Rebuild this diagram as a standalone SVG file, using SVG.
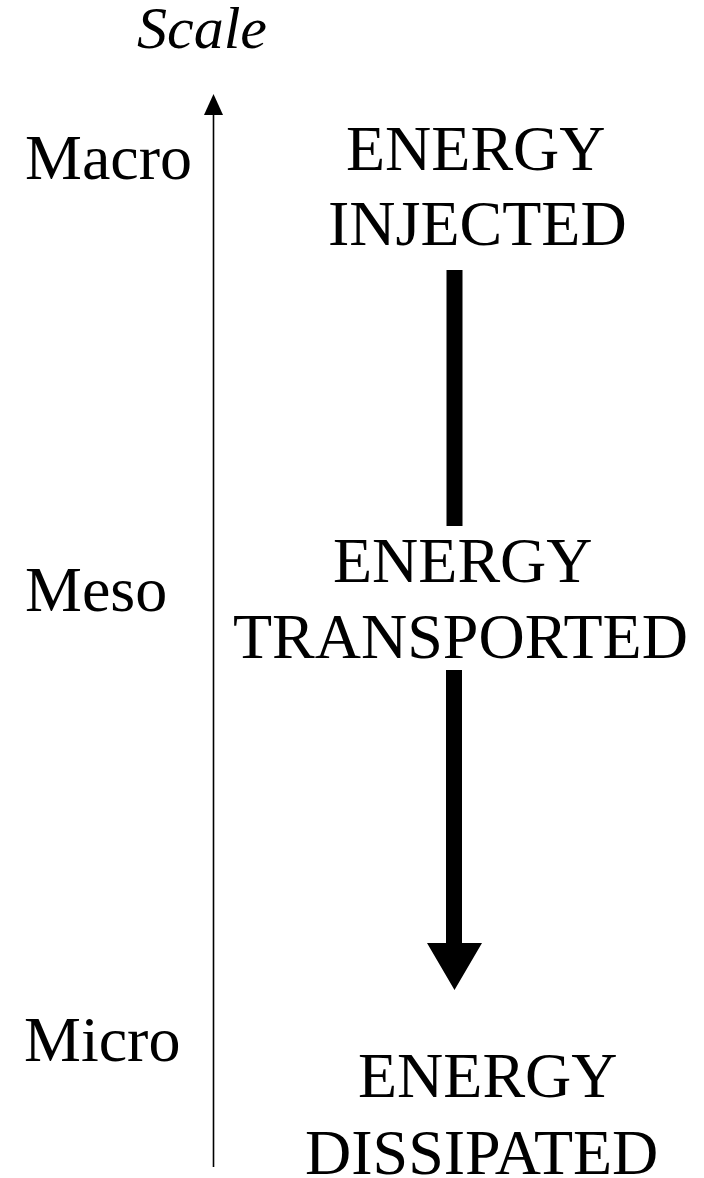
<svg xmlns="http://www.w3.org/2000/svg" width="704" height="1178" viewBox="0 0 704 1178">
  <style>
    text { font-family: "Liberation Serif", "Times New Roman", serif; font-size: 64px; fill: #000; }
    .ital { font-style: italic; font-size: 60px; }
  </style>
  <rect width="704" height="1178" fill="#fff"/>

  <!-- scale axis -->
  <g id="axis">
    <line x1="213.5" y1="1167" x2="213.5" y2="100" stroke="#000" stroke-width="1.6"/>
    <path d="M213.5,94 L204,115 L223,115 Z" fill="#000"/>
    <text x="137" y="48" class="ital">Scale</text>
  </g>

  <g id="label-macro"><text x="25" y="179">Macro</text></g>
  <g id="label-meso"><text x="25" y="611">Meso</text></g>
  <g id="label-micro"><text x="24" y="1061">Micro</text></g>

  <g id="node-injected">
    <text x="346" y="170">ENERGY</text>
    <text x="328" y="245">INJECTED</text>
  </g>
  <g id="node-transported">
    <text x="333" y="582">ENERGY</text>
    <text x="233" y="658">TRANSPORTED</text>
  </g>
  <g id="node-dissipated">
    <text x="358" y="1097">ENERGY</text>
    <text x="305" y="1174">DISSIPATED</text>
  </g>

  <!-- energy cascade connectors -->
  <g id="connectors" fill="#000">
    <rect x="446.5" y="270" width="16" height="256"/>
    <path d="M446,670 L462,670 L462,943 L482,943 L454.5,990 L427,943 L446,943 Z"/>
  </g>
</svg>
